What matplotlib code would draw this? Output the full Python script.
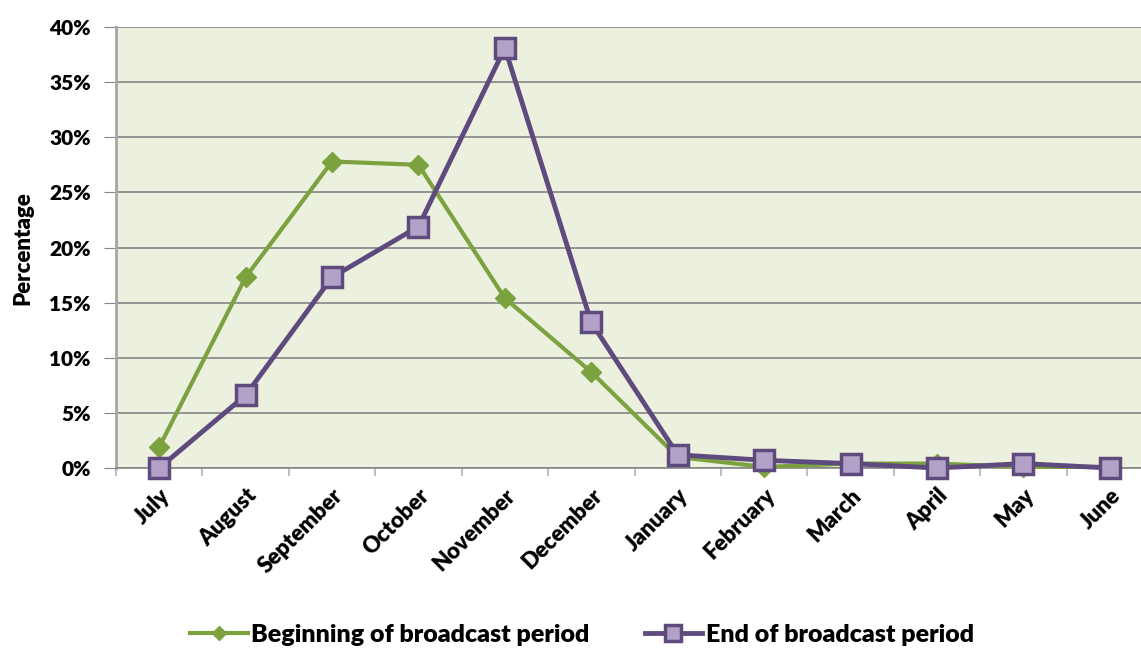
import matplotlib
matplotlib.use("Agg")
import matplotlib.pyplot as plt
from matplotlib.ticker import FixedLocator, PercentFormatter
import numpy as np

months = ["July", "August", "September", "October", "November", "December",
          "January", "February", "March", "April", "May", "June"]
beginning = [1.9, 17.3, 27.8, 27.5, 15.4, 8.7, 1.0, 0.1, 0.4, 0.4, 0.1, 0.1]
end = [0.0, 6.6, 17.3, 21.9, 38.1, 13.2, 1.2, 0.7, 0.4, 0.0, 0.4, 0.0]
yticks = [0, 5, 10, 15, 20, 25, 30, 35, 40]

plt.rcParams['font.family'] = ['Lato', 'DejaVu Sans']
plt.rcParams['font.weight'] = 'heavy'
WT = 'heavy'

W, H = 1141, 648
fig = plt.figure(figsize=(W/100, H/100), dpi=100)
left, right, top, bottom = 116, 1153, 27, 468
ax = fig.add_axes([left/W, 1-bottom/H, (right-left)/W, (bottom-top)/H])
ax.set_facecolor("#EBF1DE")

x = np.arange(len(months))
green = "#7BA23F"
purple = "#5F4A7E"
ax.plot(x, beginning, color=green, lw=3, marker="D", ms=10, mfc=green, mec=green,
        label="Beginning of broadcast period", zorder=3, clip_on=False)
ax.plot(x, end, color=purple, lw=3.5, marker="s", ms=15, mfc="#B3A2C7", mec=purple, mew=2.5,
        label="End of broadcast period", zorder=4, clip_on=False)

ax.set_xlim(-0.5, len(months)-0.5)
ax.set_ylim(0, 40)
ax.set_yticks(yticks)
ax.yaxis.set_major_formatter(PercentFormatter(decimals=0))
ax.grid(axis="y", color="#868686", lw=1.2)
ax.set_axisbelow(True)

ax.set_xticks(x)
ax.set_xticklabels(months, rotation=45, ha="right", rotation_mode="anchor", fontsize=16, fontweight=WT)
ax.tick_params(axis="x", length=0, pad=12)
ax.xaxis.set_minor_locator(FixedLocator(np.arange(-0.5, len(months), 1)))
ax.tick_params(axis="x", which="minor", length=6, color="#BFBFBF", width=1.5)
ax.tick_params(axis="y", length=9, color="#868686", labelsize=15, pad=9)
for lab in ax.get_yticklabels():
    lab.set_fontweight(WT)

for s in ["top", "right"]:
    ax.spines[s].set_visible(False)
ax.spines["left"].set_color("#A6A6A6")
ax.spines["left"].set_linewidth(2)
ax.spines["bottom"].set_color("#868686")
ax.spines["bottom"].set_linewidth(1.2)

ax.set_ylabel("Percentage", fontsize=16, fontweight=WT)
ax.yaxis.set_label_coords(33/W, 1-248/H, transform=fig.transFigure)

fig.legend(loc="center left", bbox_to_anchor=(190/W, 1-635/H), ncol=2, frameon=False,
           handlelength=2.3, handletextpad=0.15, columnspacing=2.2, markerscale=0.75,
           borderaxespad=0, borderpad=0,
           prop={'weight': WT, 'size': 18})

fig.savefig("out.png", dpi=100)
